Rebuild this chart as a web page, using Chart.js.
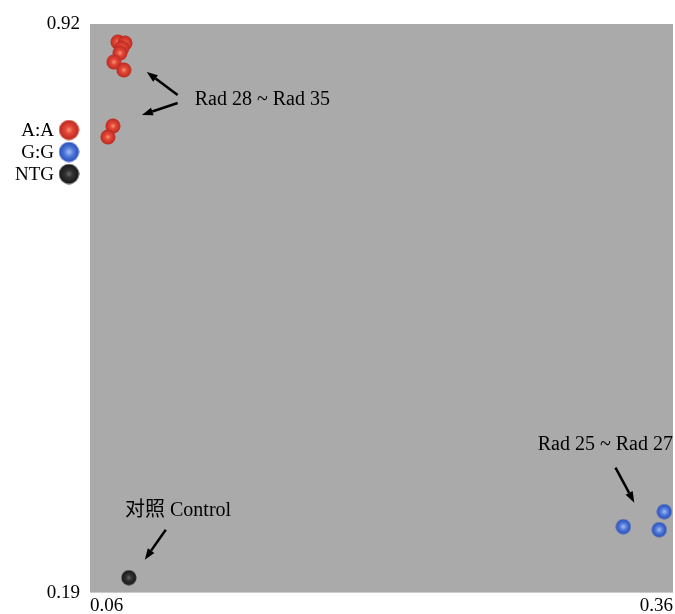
<!DOCTYPE html>
<html>
<head>
<meta charset="utf-8">
<script src="https://cdn.jsdelivr.net/npm/chart.js@4.4.1/dist/chart.umd.min.js"></script>
<style>
  html, body { margin: 0; background: #fff; }
  #wrap { width: 675px; height: 614px; }
</style>
</head>
<body>
<div id="wrap"><canvas id="genoChart"></canvas></div>
<script>
// genotype groups
const seriesNames = ['A:A', 'G:G', 'NTG'];

const aaX = [0.0744, 0.0780, 0.0764, 0.0754, 0.0723, 0.0774, 0.0718, 0.0692];
const aaY = [0.8969, 0.8956, 0.8892, 0.8828, 0.8712, 0.8610, 0.7891, 0.7750];

const ggX = [0.3344, 0.3555, 0.3529];
const ggY = [0.2747, 0.2939, 0.2708];

const ntgX = [0.0800];
const ntgY = [0.2092];

const xTicks = [0.06, 0.36];
const yTicks = [0.19, 0.92];

// callouts (data units)
const noteTexts = ['Rad 28 ~ Rad 35', 'Rad 25 ~ Rad 27', '对照 Control'];
const noteX = [0.1139, 0.2904, 0.0780];
const noteY = [0.8225, 0.3800, 0.2952];

const arrowFromX = [0.1051, 0.1051, 0.3304, 0.0990];
const arrowFromY = [0.8289, 0.8186, 0.3504, 0.2708];
const arrowToX   = [0.0892, 0.0867, 0.3401, 0.0882];
const arrowToY   = [0.8584, 0.8032, 0.3055, 0.2323];

const serif = '"Liberation Serif", "Times New Roman", "Noto Sans CJK SC", serif';

function toPoints(xs, ys) {
  return xs.map((x, i) => ({ x: x, y: ys[i] }));
}

// little shaded balls used as point markers
function makeBall(size, edge, mid, core, ring) {
  const c = document.createElement('canvas');
  c.width = size; c.height = size;
  const g = c.getContext('2d');
  const r = size / 2;
  const grad = g.createRadialGradient(r, r, 0, r, r, r);
  grad.addColorStop(0, core);
  grad.addColorStop(ring ? 0.45 : 0.35, mid);
  grad.addColorStop(1, edge);
  g.fillStyle = grad;
  g.beginPath();
  g.arc(r, r, r - 0.5, 0, Math.PI * 2);
  g.fill();
  return c;
}

const ballColors = [
  ['#b8261c', '#e4483a', '#f59a70', false],
  ['#2448b8', '#4f78d8', '#a8c0f0', true],
  ['#151515', '#333333', '#6a6a6a', false]
];
const smallBalls = ballColors.map(c => makeBall(16, c[0], c[1], c[2], c[3]));
const bigBalls = ballColors.map(c => makeBall(21, c[0], c[1], c[2], c[3]));

const plotBackground = {
  id: 'plotBackground',
  beforeDraw(chart) {
    const a = chart.chartArea;
    const ctx = chart.ctx;
    ctx.save();
    ctx.fillStyle = '#aaaaaa';
    ctx.fillRect(a.left, a.top, a.right - a.left, a.bottom - a.top);
    ctx.restore();
  }
};

const callouts = {
  id: 'callouts',
  afterDatasetsDraw(chart) {
    const ctx = chart.ctx;
    const xs = chart.scales.x, ys = chart.scales.y;
    ctx.save();
    ctx.fillStyle = '#000';
    ctx.strokeStyle = '#000';
    ctx.font = '20px ' + serif;
    ctx.textAlign = 'left';
    ctx.textBaseline = 'middle';
    noteTexts.forEach((t, i) => {
      ctx.fillText(t, xs.getPixelForValue(noteX[i]), ys.getPixelForValue(noteY[i]));
    });
    ctx.lineWidth = 2.5;
    arrowFromX.forEach((fx, i) => {
      const x0 = xs.getPixelForValue(fx), y0 = ys.getPixelForValue(arrowFromY[i]);
      const x1 = xs.getPixelForValue(arrowToX[i]), y1 = ys.getPixelForValue(arrowToY[i]);
      const ang = Math.atan2(y1 - y0, x1 - x0);
      const hl = 11, hw = 4;
      const bx = x1 - hl * Math.cos(ang), by = y1 - hl * Math.sin(ang);
      ctx.beginPath();
      ctx.moveTo(x0, y0);
      ctx.lineTo(bx, by);
      ctx.stroke();
      ctx.beginPath();
      ctx.moveTo(x1, y1);
      ctx.lineTo(bx + hw * Math.sin(ang), by - hw * Math.cos(ang));
      ctx.lineTo(bx - hw * Math.sin(ang), by + hw * Math.cos(ang));
      ctx.closePath();
      ctx.fill();
    });
    ctx.restore();
  }
};

// legend sits left of the plot, text before the marker
const sideLegend = {
  id: 'sideLegend',
  afterDraw(chart, args, opts) {
    const ctx = chart.ctx;
    ctx.save();
    ctx.font = '19px ' + serif;
    ctx.fillStyle = '#000';
    ctx.textAlign = 'right';
    ctx.textBaseline = 'middle';
    chart.data.datasets.forEach((ds, i) => {
      const y = opts.top + i * opts.step;
      ctx.fillText(ds.label, opts.textRight, y + 1);
      const b = bigBalls[i];
      ctx.drawImage(b, opts.markerX - b.width / 2, y - b.height / 2);
    });
    ctx.restore();
  }
};

new Chart(document.getElementById('genoChart'), {
  type: 'scatter',
  data: {
    datasets: [
      { label: seriesNames[0], data: toPoints(aaX, aaY), pointStyle: smallBalls[0] },
      { label: seriesNames[1], data: toPoints(ggX, ggY), pointStyle: smallBalls[1] },
      { label: seriesNames[2], data: toPoints(ntgX, ntgY), pointStyle: smallBalls[2] }
    ]
  },
  options: {
    responsive: true,
    maintainAspectRatio: false,
    animation: false,
    layout: { autoPadding: false, padding: { top: 24, right: 0, left: 0, bottom: 0 } },
    plugins: {
      legend: { display: false },
      tooltip: { enabled: false },
      sideLegend: { top: 130, step: 22, textRight: 54, markerX: 69 }
    },
    scales: {
      x: {
        type: 'linear',
        min: 0.06,
        max: 0.36,
        grid: { display: false, drawTicks: false },
        border: { display: false },
        afterBuildTicks: s => { s.ticks = xTicks.map(v => ({ value: v })); },
        afterFit: s => { s.height = 21; },
        ticks: {
          align: 'inner',
          padding: 2,
          color: '#000',
          font: { family: serif, size: 19 },
          callback: v => v.toFixed(2)
        }
      },
      y: {
        type: 'linear',
        min: 0.19,
        max: 0.92,
        grid: { display: false, drawTicks: false },
        border: { display: false },
        afterBuildTicks: s => { s.ticks = yTicks.map(v => ({ value: v })); },
        afterFit: s => { s.width = 90; },
        ticks: {
          padding: 10,
          color: '#000',
          font: { family: serif, size: 19 },
          callback: v => v.toFixed(2)
        }
      }
    }
  },
  plugins: [plotBackground, callouts, sideLegend]
});
</script>
</body>
</html>
